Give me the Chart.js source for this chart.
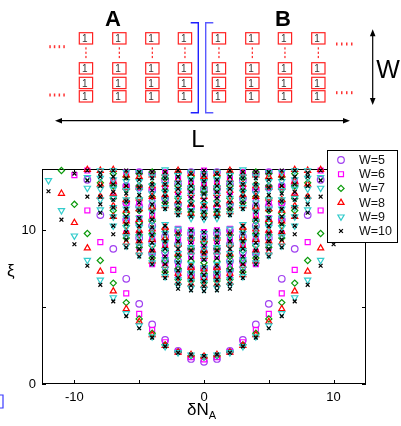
<!DOCTYPE html>
<html>
<head>
<meta charset="utf-8">
<script src="https://cdn.jsdelivr.net/npm/chart.js@4.4.0/dist/chart.umd.min.js"></script>
<style>
  html, body { margin: 0; padding: 0; background: #fff; }
  #wrap { position: relative; width: 401px; height: 426px; overflow: hidden; font-family: "Liberation Sans", Arial, sans-serif; }
  #plot, #sketch { position: absolute; left: 0; top: 0; }
  .lab { position: absolute; color: #000; line-height: 1; }
  .lab sub { font-size: 11px; vertical-align: -4px; }
</style>
</head>
<body>
<div id="wrap">
  <canvas id="plot" width="401" height="426"></canvas>
  <svg id="sketch" width="401" height="426" xmlns="http://www.w3.org/2000/svg"></svg>
  <div class="lab" style="left:7px;top:262px;font-size:17px;">ξ</div>
  <div class="lab" style="left:187px;top:401px;font-size:17px;">δN<sub>A</sub></div>
</div>
<script>
// entanglement levels xi, listed per |dN_A| = 0..12 (the picture is mirror symmetric in dN_A)
const absDN = [0, 1, 2, 3, 4, 5, 6, 7, 8, 9, 10, 11, 12];

const xiW5 = [
  [1.45, 7.0, 7.55, 8.6, 9.6, 11.4, 12.6, 13.6],
  [1.63, 7.1, 7.55, 8.8, 9.8, 11.5, 12.7, 13.8],
  [2.15, 7.4, 8.0, 9.1, 10.0, 11.7, 13.0],
  [2.87, 8.0, 8.6, 9.6, 12.1, 13.3],
  [3.88, 8.5, 9.3, 10.3, 11.57, 12.6, 13.7],
  [5.22, 9.5, 10.5, 11.57, 12.8, 13.8],
  [6.85, 10.7, 11.8, 12.9],
  [8.8, 13.0],
  [11.0],
  [13.3],
  [], [], []
];
const xiW6 = [
  [1.6, 6.9, 7.3, 8.2, 9.1, 9.9, 11.3, 12.2, 13.1, 13.9],
  [1.75, 6.9, 7.4, 8.3, 9.3, 10.0, 11.4, 12.3, 13.2],
  [2.1, 7.1, 7.6, 8.5, 9.5, 10.1, 11.6, 12.5, 13.4],
  [2.72, 7.6, 8.2, 9.1, 10.0, 12.0, 12.9, 13.8],
  [3.52, 7.8, 8.6, 9.6, 10.0, 11.0, 11.9, 12.8, 13.7],
  [4.57, 8.9, 9.8, 10.8, 11.8, 12.8, 13.8],
  [5.9, 9.8, 10.8, 11.8, 12.8, 13.8],
  [7.43, 12.2, 13.2],
  [9.24],
  [11.3, 13.9],
  [13.6],
  [], []
];
const xiW7 = [
  [1.75, 6.6, 7.2, 7.9, 8.6, 9.2, 11.1, 11.8, 12.5, 13.3],
  [1.85, 6.7, 7.3, 8.0, 8.8, 9.5, 11.2, 11.9, 12.7, 13.5],
  [2.08, 6.8, 7.5, 8.3, 9.0, 9.7, 11.4, 12.1, 12.9, 13.7],
  [2.55, 7.3, 8.0, 8.7, 9.4, 10.1, 11.8, 12.6, 13.4],
  [3.3, 8.2, 9.0, 9.8, 10.6, 11.4, 12.2, 13.0, 13.8],
  [4.24, 8.9, 9.7, 10.5, 11.3, 12.1, 12.9, 13.7],
  [5.3, 9.5, 10.3, 11.1, 11.9, 12.7, 13.5],
  [6.57, 11.3, 12.1, 12.9, 13.7],
  [8.04, 13.1],
  [9.8],
  [11.7],
  [13.9],
  []
];
const xiW8 = [
  [1.8, 6.4, 6.9, 7.5, 8.3, 8.7, 9.4, 11.0, 11.6, 12.2, 12.9, 13.5],
  [1.9, 6.5, 7.0, 7.6, 8.6, 9.5, 11.1, 11.7, 12.4, 13.0, 13.7],
  [2.05, 6.6, 7.2, 8.5, 9.1, 9.8, 11.2, 11.9, 12.6, 13.3, 13.9],
  [2.5, 7.1, 7.7, 8.95, 9.5, 10.2, 11.6, 12.3, 13.0, 13.7],
  [3.2, 8.0, 8.7, 9.4, 10.1, 10.8, 11.5, 12.2, 12.9, 13.6],
  [4.06, 8.6, 9.3, 10.0, 10.7, 11.4, 12.1, 12.8, 13.5],
  [4.89, 9.2, 9.9, 10.6, 11.3, 12.0, 12.8, 13.6],
  [6.05, 10.9, 11.6, 12.4, 13.2, 13.95],
  [7.33, 12.2, 13.0, 13.9],
  [8.85, 13.95],
  [10.5],
  [12.4],
  []
];
const xiW9 = [
  [1.8, 6.2, 6.6, 7.0, 7.6, 8.2, 8.8, 9.3, 9.8, 10.75, 11.2, 11.7, 12.2, 12.7, 13.2, 13.7],
  [1.9, 6.25, 6.7, 7.2, 7.8, 8.4, 8.9, 9.4, 9.9, 10.8, 11.3, 11.8, 12.3, 12.8, 13.3, 13.8],
  [2.05, 6.4, 6.8, 7.3, 7.9, 8.5, 9.0, 9.6, 10.1, 11.1, 11.6, 12.1, 12.6, 13.1, 13.6],
  [2.45, 7.0, 7.5, 8.1, 8.7, 9.2, 9.8, 10.4, 11.5, 12.0, 12.5, 13.0, 13.5, 13.95],
  [3.09, 7.9, 8.4, 9.0, 9.6, 10.1, 10.6, 11.2, 11.8, 12.4, 12.9, 13.5],
  [3.8, 8.4, 9.0, 9.6, 10.2, 10.8, 11.4, 12.0, 12.6, 13.2, 13.8],
  [4.6, 9.0, 9.6, 10.2, 10.8, 11.4, 12.0, 12.6, 13.2, 13.8],
  [5.63, 10.3, 10.9, 11.5, 12.1, 12.7, 13.3, 13.9],
  [6.78, 11.35, 12.0, 12.7, 13.4, 13.9],
  [8.06, 12.76, 13.46],
  [9.65],
  [11.3],
  [13.26]
];
const xiW10 = [
  [1.83, 6.05, 6.35, 6.7, 7.1, 7.6, 8.1, 8.55, 9.0, 9.5, 9.9, 10.8, 11.2, 11.6, 12.0, 12.4, 12.8, 13.2, 13.6, 13.9],
  [1.92, 6.1, 6.4, 6.8, 7.2, 7.7, 8.2, 8.7, 9.2, 9.6, 10.0, 10.9, 11.3, 11.7, 12.1, 12.5, 12.9, 13.3, 13.7],
  [2.04, 6.2, 6.5, 6.9, 7.4, 7.9, 8.4, 8.8, 9.3, 9.8, 11.0, 11.4, 11.8, 12.3, 12.7, 13.1, 13.5, 13.9],
  [2.45, 6.9, 7.3, 7.8, 8.3, 8.8, 9.3, 9.8, 10.3, 11.4, 11.8, 12.2, 12.6, 13.0, 13.4, 13.8],
  [3.02, 7.8, 8.2, 8.7, 9.2, 9.7, 10.2, 10.7, 11.2, 11.7, 12.2, 12.6, 13.0, 13.4, 13.8],
  [3.63, 8.3, 8.8, 9.3, 9.8, 10.3, 10.8, 11.3, 11.8, 12.3, 12.8, 13.3, 13.8],
  [4.42, 8.9, 9.4, 9.9, 10.4, 10.9, 11.4, 11.9, 12.4, 12.9, 13.4, 13.9],
  [5.38, 9.75, 10.3, 10.9, 11.5, 12.0, 12.5, 13.0, 13.5, 13.9],
  [6.46, 11.15, 11.7, 12.2, 12.9, 13.5, 13.75],
  [7.7, 12.2, 13.26, 13.9],
  [9.1, 13.7],
  [10.7],
  [12.55]
];

const seriesLabels = ['W=5', 'W=6', 'W=7', 'W=8', 'W=9', 'W=10'];
const seriesLevels = [xiW5, xiW6, xiW7, xiW8, xiW9, xiW10];
const seriesColors = ['#a040f0', '#ff00ff', '#0a9a0a', '#ff0000', '#33cccc', '#000000'];
const seriesShapes = ['circle', 'rect', 'rectRot', 'triangle', 'triangle', 'crossRot'];
const seriesTurns = [0, 0, 0, 0, 180, 0];
const seriesSizes = [3.3, 3.5, 3.1, 3.5, 3.6, 2.7];

const xTicks = [-10, -5, 0, 5, 10];
const yTicks = [0, 5, 10];

function toPoints(levels) {
  const pts = [];
  absDN.forEach((k, i) => {
    levels[i].forEach(v => {
      pts.push({ x: k, y: v });
      if (k > 0) pts.push({ x: -k, y: v });
    });
  });
  return pts;
}

const datasets = seriesLabels.map((label, i) => ({
  label,
  data: toPoints(seriesLevels[i]),
  pointStyle: seriesShapes[i],
  rotation: seriesTurns[i],
  pointRadius: seriesSizes[i],
  pointBorderWidth: 1.2,
  borderColor: seriesColors[i],
  pointBorderColor: seriesColors[i],
  pointBackgroundColor: 'rgba(0,0,0,0)',
  showLine: false,
  clip: false,
  order: seriesLabels.length - i   // W=10 on top
}));

// box and inward tick marks
const frame = {
  id: 'frame',
  beforeDatasetsDraw(chart) {
    const { ctx, chartArea: a, scales: { x, y } } = chart;
    ctx.save();
    ctx.strokeStyle = '#000';
    ctx.lineWidth = 1;
    ctx.strokeRect(a.left + 0.5, a.top + 0.5, a.right - a.left - 1, a.bottom - a.top - 1);
    ctx.beginPath();
    xTicks.forEach(v => {
      const px = Math.round(x.getPixelForValue(v)) + 0.5;
      ctx.moveTo(px, a.bottom); ctx.lineTo(px, a.bottom - 4);
      ctx.moveTo(px, a.top); ctx.lineTo(px, a.top + 4);
    });
    yTicks.forEach(v => {
      const py = Math.round(y.getPixelForValue(v)) + 0.5;
      ctx.moveTo(a.left, py); ctx.lineTo(a.left + 4, py);
      ctx.moveTo(a.right, py); ctx.lineTo(a.right - 4, py);
    });
    ctx.stroke();
    ctx.restore();
  }
};

// boxed legend sitting over the top right corner
const boxLegend = {
  id: 'boxLegend',
  afterDraw(chart) {
    const ctx = chart.ctx;
    const a = chart.chartArea;
    const left = a.right - 39, top = a.top - 19, w = 70, h = 92;
    ctx.save();
    ctx.fillStyle = '#fff';
    ctx.fillRect(left, top, w, h);
    ctx.strokeStyle = '#000';
    ctx.lineWidth = 1;
    ctx.strokeRect(left + 0.5, top + 0.5, w, h);
    chart.data.datasets.forEach((ds, i) => {
      const yy = top + 10 + i * 14.2;
      ctx.strokeStyle = ds.borderColor;
      ctx.fillStyle = 'rgba(0,0,0,0)';
      ctx.lineWidth = 1.2;
      Chart.helpers.drawPoint(ctx, {
        pointStyle: ds.pointStyle, rotation: ds.rotation,
        radius: ds.pointRadius, borderWidth: 1.2
      }, left + 14, yy);
      ctx.fillStyle = '#111';
      ctx.font = '12.5px "Liberation Sans", Arial, sans-serif';
      ctx.textBaseline = 'middle';
      ctx.textAlign = 'left';
      ctx.fillText(ds.label, left + 32, yy + 0.5);
    });
    ctx.restore();
  }
};

new Chart(document.getElementById('plot'), {
  type: 'scatter',
  data: { datasets },
  options: {
    responsive: false,
    animation: false,
    devicePixelRatio: 1,
    layout: { padding: { top: 169, right: 35, left: 0, bottom: 0 } },
    plugins: { legend: { display: false }, tooltip: { enabled: false } },
    scales: {
      x: {
        type: 'linear', min: -12.5, max: 12.5,
        grid: { display: false, drawTicks: false },
        border: { display: false },
        afterBuildTicks: s => { s.ticks = xTicks.map(v => ({ value: v })); },
        afterFit: s => { s.height = 42; },
        ticks: {
          color: '#000', padding: 6, maxRotation: 0, autoSkip: false,
          font: { family: '"Liberation Sans", Arial, sans-serif', size: 13 },
          callback: v => (v % 10 === 0 ? String(v) : '')
        }
      },
      y: {
        type: 'linear', min: 0, max: 14,
        grid: { display: false, drawTicks: false },
        border: { display: false },
        afterBuildTicks: s => { s.ticks = yTicks.map(v => ({ value: v })); },
        afterFit: s => { s.width = 42; },
        ticks: {
          color: '#000', padding: 6, autoSkip: false,
          font: { family: '"Liberation Sans", Arial, sans-serif', size: 13 },
          callback: v => (v % 10 === 0 ? String(v) : '')
        }
      }
    }
  },
  plugins: [frame, boxLegend]
});

// lattice sketch above the plot
const NS = 'http://www.w3.org/2000/svg';
const svg = document.getElementById('sketch');
function add(tag, attrs, text) {
  const el = document.createElementNS(NS, tag);
  for (const k in attrs) el.setAttribute(k, attrs[k]);
  if (text !== undefined) el.textContent = text;
  svg.appendChild(el);
  return el;
}
const colLeft = [79.3, 112.7, 145.7, 178.3, 212.3, 245.7, 278.3, 311.7];
const rowTop = [32.7, 62.7, 77.3, 90.7];
colLeft.forEach(cx => {
  rowTop.forEach(ry => {
    add('rect', { x: cx, y: ry, width: 13.3, height: 11.3, fill: 'none', stroke: '#f22', 'stroke-width': 1.2 });
    add('text', { x: cx + 2.6, y: ry + 9.6, 'font-size': 10, fill: '#333', 'font-family': 'Liberation Sans, Arial, sans-serif' }, '1');
  });
  [48.3, 52.7, 56.9].forEach(dy => add('rect', { x: cx + 6, y: dy - 1, width: 1.3, height: 2.2, fill: '#f33' }));
});
[[50, 46.7], [54.5, 46.7], [59.3, 46.7], [64, 46.7], [50, 95], [54.5, 95], [59.3, 95], [64, 95],
 [336.7, 44], [341.7, 44], [346.7, 44], [351.7, 44], [336.7, 92.7], [341.7, 92.7], [346.7, 92.7], [351.7, 92.7]]
  .forEach(([dx, dy]) => add('rect', { x: dx - 0.7, y: dy - 1.5, width: 1.5, height: 3, fill: '#f33' }));
add('path', { d: 'M190.7 22.7 H198.3 V112.7 H190.7', fill: 'none', stroke: '#1f1fff', 'stroke-width': 1.4 });
add('path', { d: 'M213.3 22.7 H205.7 V112.7 H213.3', fill: 'none', stroke: '#5a5aff', 'stroke-width': 1.4 });
add('path', { d: 'M0 395 H3 V408 H0', fill: 'none', stroke: '#3a3aff', 'stroke-width': 1.2 });
add('line', { x1: 60, y1: 120.7, x2: 345, y2: 120.7, stroke: '#000', 'stroke-width': 1.2 });
add('polygon', { points: '55,120.7 62,117.9 62,123.5', fill: '#000' });
add('polygon', { points: '350,120.7 343,117.9 343,123.5', fill: '#000' });
add('line', { x1: 372.7, y1: 34, x2: 372.7, y2: 100, stroke: '#000', 'stroke-width': 1.2 });
add('polygon', { points: '372.7,29.3 369.9,36.3 375.5,36.3', fill: '#000' });
add('polygon', { points: '372.7,105 369.9,98 375.5,98', fill: '#000' });
const big = { 'font-family': 'Liberation Sans, Arial, sans-serif', 'text-anchor': 'middle', fill: '#000' };
add('text', Object.assign({ x: 113, y: 25.7, 'font-size': 22, 'font-weight': 'bold' }, big), 'A');
add('text', Object.assign({ x: 283, y: 25.7, 'font-size': 22, 'font-weight': 'bold' }, big), 'B');
add('text', Object.assign({ x: 198, y: 146.7, 'font-size': 24 }, big), 'L');
add('text', Object.assign({ x: 388, y: 78.3, 'font-size': 25 }, big), 'W');
</script>
</body>
</html>
